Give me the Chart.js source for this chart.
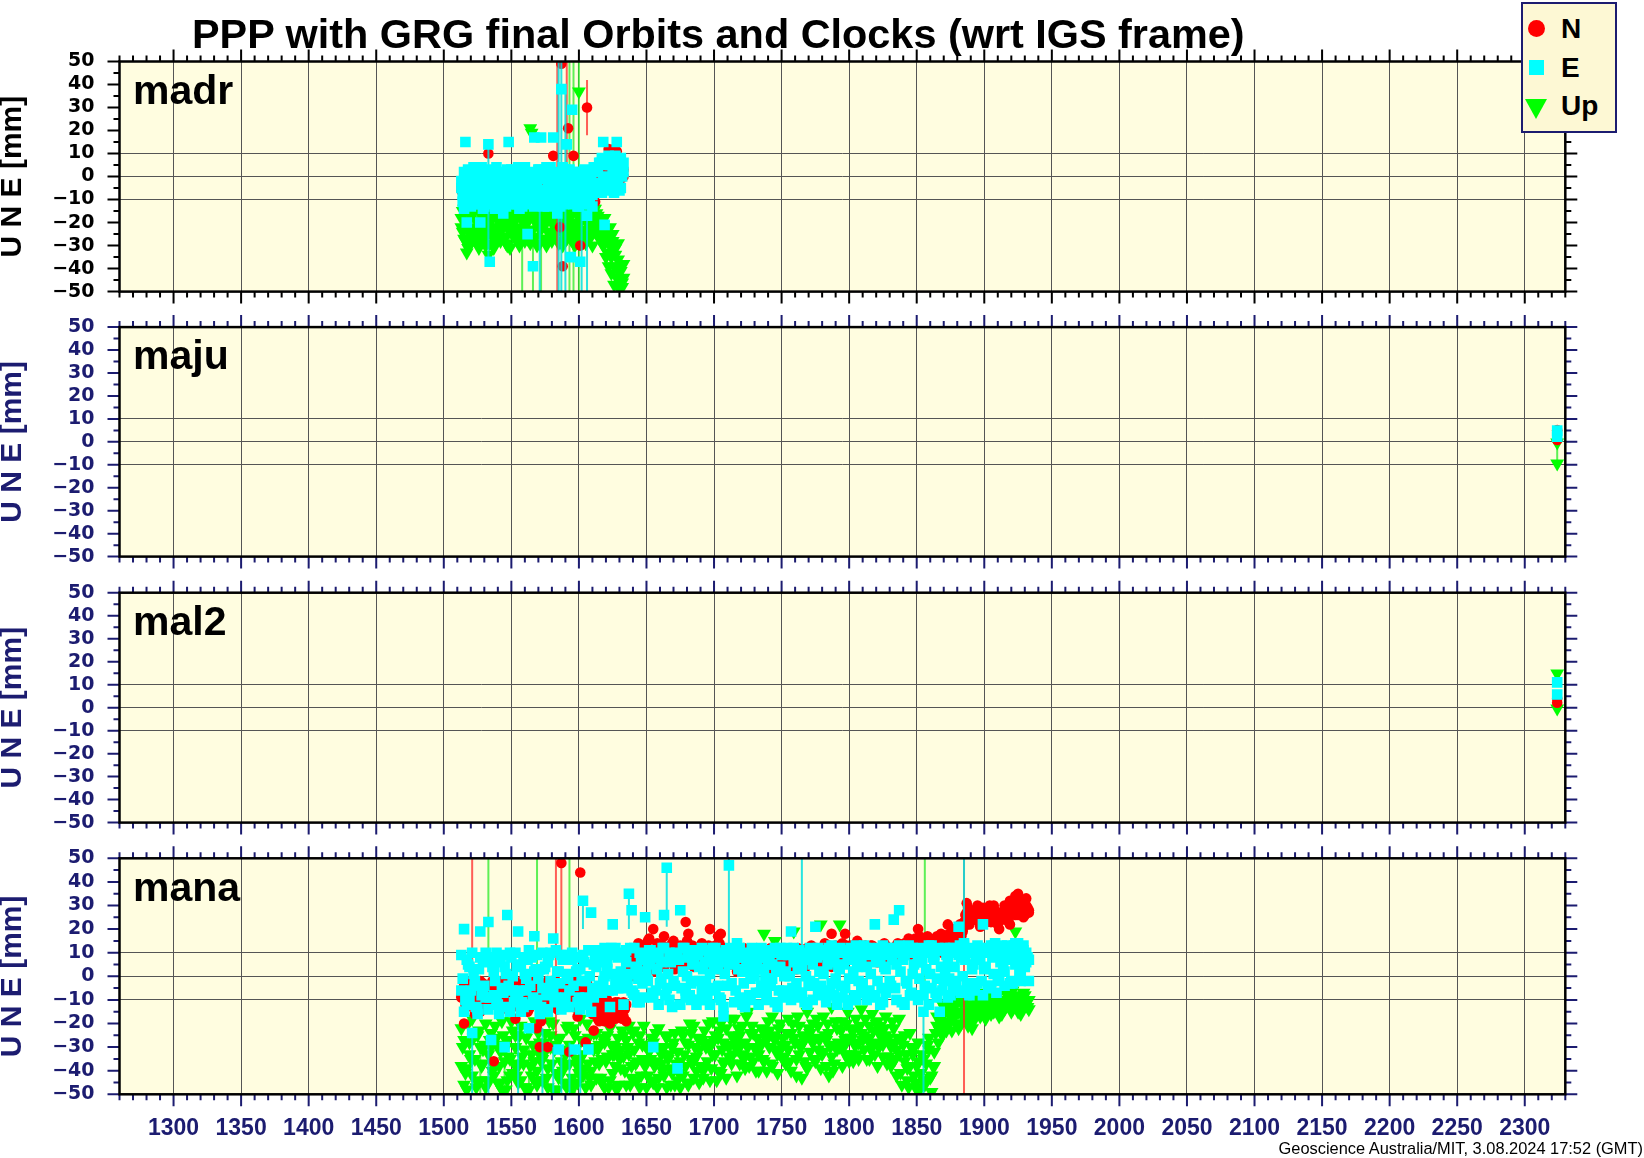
<!DOCTYPE html>
<html><head><meta charset="utf-8">
<script src="https://cdn.jsdelivr.net/npm/chart.js@4.4.1/dist/chart.umd.min.js"></script>
<style>
html,body{margin:0;padding:0;background:#fff;}
body{width:1644px;height:1158px;position:relative;overflow:hidden;font-family:"Liberation Sans",Arial,sans-serif;}
canvas{position:absolute;left:0;z-index:1;}
.t{position:absolute;white-space:nowrap;line-height:1;font-weight:bold;color:#000;z-index:5;}
#title{left:192px;top:13.5px;font-size:41.4px;}
.stn{left:133px;font-size:41px;}
#legend{position:absolute;left:1521px;top:2px;width:96px;height:131px;box-sizing:border-box;border:2px solid #1c1c70;background:#fdf8d4;z-index:10;}
.lg{position:absolute;z-index:11;}
.lt{left:1561px;font-size:28px;z-index:11;}
#footer{position:absolute;right:1px;top:1140px;font-size:16.4px;line-height:1;white-space:nowrap;color:#000;z-index:5;}
</style></head>
<body>
<div id="title" class="t">PPP with GRG final Orbits and Clocks (wrt IGS frame)</div>
<div id="legend"></div>
<div class="lg" style="left:1527.5px;top:19.5px;width:17px;height:17px;border-radius:50%;background:#ff0000;"></div>
<div class="t lt" style="top:15.3px;">N</div>
<div class="lg" style="left:1528.7px;top:59.7px;width:15.3px;height:15.3px;background:#00ffff;"></div>
<div class="t lt" style="top:54.3px;">E</div>
<div class="lg" style="left:1524.7px;top:99px;width:0;height:0;border-left:11.5px solid transparent;border-right:11.5px solid transparent;border-top:20px solid #00ff00;"></div>
<div class="t lt" style="top:92.3px;">Up</div>
<div id="footer">Geoscience Australia/MIT, 3.08.2024 17:52 (GMT)</div>
<script>
// ---------- axes ----------
const xMin = 1260, xMax = 2330;
const xTicks = [1300,1350,1400,1450,1500,1550,1600,1650,1700,1750,1800,1850,1900,1950,2000,2050,2100,2150,2200,2250,2300];
const yTicks = [-50,-40,-30,-20,-10,0,10,20,30,40,50];
const yGrid = [-10,0,10];
const yTitle = 'U N E [mm]';

// ---------- madr ----------
const madrDays = [1513,1514,1515,1516,1517,1518,1519,1520,1521,1522,
1523,1524,1525,1526,1527,1528,1529,1530,1531,1532,
1533,1534,1535,1536,1537,1538,1539,1540,1541,1542,
1543,1544,1545,1546,1547,1548,1549,1550,1551,1552,
1553,1554,1555,1556,1557,1558,1559,1560,1561,1562,
1563,1564,1565,1566,1567,1568,1569,1570,1571,1572,
1573,1574,1575,1576,1577,1578,1579,1580,1581,1582,
1583,1584,1585,1586,1587,1588,1589,1590,1591,1592,
1593,1594,1595,1596,1597,1598,1599,1600,1601,1602,
1603,1604,1605,1606,1607,1608,1609,1610,1611,1612,
1613,1614,1615,1616,1617,1618,1619,1620,1621,1622,
1623,1624,1625,1626,1627,1628,1629,1630,1631,1632,
1633];
const madrN = [-4,-7,-2,-9,-5,-1,-8,-3,-6,-10,
-5,-2,-8,-4,-11,-6,-3,-9,-1,-7,
10,-5,-8,-2,-10,-4,-7,-1,-9,-6,
-3,-8,-5,-11,-2,-7,-4,-9,-6,-1,
-8,-3,-6,-10,-4,-1,-12,-7,-5,-2,
-6,-9,-3,-11,-5,-8,-2,-7,-4,-10,
-3,-7,-5,-1,-9,-6,-4,-8,9,-2,
-5,-9,-3,-22,49,-39,-6,-4,-8,21,
-7,-2,-5,9,-10,-3,-6,-8,-30,-1,
-4,-9,-2,30,-6,-3,-8,-12,-5,-1,
-3,0,-5,2,-2,4,-4,1,3,12,
2,-1,5,12,0,11,3,-2,4,1,
0];
const madrE = [-5,-11,2,15,-20,-8,1,-13,-3,4,
-9,-1,-12,3,-20,-6,-14,0,-4,-10,
14,-37,-7,2,-12,-3,4,-9,-1,-13,
-5,-16,1,-10,-3,15,-12,3,-7,-1,
-11,2,-6,-14,0,-4,-9,4,-2,-25,
-8,1,-12,-39,17,-3,-10,3,-6,17,
-1,-13,2,-7,-4,-11,4,-2,17,-9,
-5,-16,1,-10,38,-3,-12,3,14,-7,
-2,-35,29,-11,0,-6,-13,2,-37,-4,
-9,3,-1,-17,-5,-12,1,-8,4,-3,
-6,2,-3,6,-7,15,-21,0,7,-4,
5,-2,8,-6,3,15,-1,6,-5,4,
2];
const madrU = [-18,-24,-14,-28,-20,-31,-16,-25,-22,-13,
-26,-19,-23,-15,-29,-21,-17,-27,-12,-24,
-34,-20,-25,-16,-22,-28,-13,-19,-26,-18,
-23,-15,-27,-20,-30,-14,-24,-18,-21,-26,
-17,-25,-13,-22,-28,-19,-15,-24,-20,-27,
-14,21,19,-23,-18,-26,-16,-21,-29,-15,
-22,-19,-27,-13,-24,-17,-25,-20,-14,-26,
-18,-23,-15,-28,-21,-16,-24,-19,-27,-13,
-25,-17,-22,-29,-14,-20,-26,37,-18,-23,
-16,-24,-19,-27,-21,-15,-25,-18,-22,-14,
-20,-17,-23,-18,-26,-21,-29,-24,-33,-27,
-22,-35,-28,-39,-31,-44,-36,-49,-41,-46,
-38];
// second solution per day (same days)
const madrN2 = [-6,-3,-9,-2,-7,-11,-4,-8,-1,-5,
-3,-8,-12,-6,-2,-9,-5,-10,-7,-4,
-7,-2,-10,-5,-8,-3,-11,-6,-4,-9,
-5,-10,-2,-7,-12,-4,-8,-3,-9,-6,
-2,-9,-5,-12,-7,-3,-6,-10,-4,-8,
-9,-4,-7,-2,-10,-6,-12,-3,-8,-5,
-6,-10,-3,-8,-4,-11,-7,-2,-9,-5,
-3,-7,-10,-5,-2,-8,-11,-6,-4,-9,
-8,-4,-11,-6,-2,-9,-5,-10,-3,-7,
-5,-2,-8,-10,-4,-7,-3,-9,-6,-11,
-1,3,-3,1,5,-2,2,-4,4,0,
3,0,6,-2,4,1,7,-1,2,5,
3];
const madrE2 = [-2,-8,-14,0,-6,3,-11,-4,-9,-1,
-12,2,-7,-3,-10,4,-5,-13,1,-8,
-4,-11,3,-6,-1,-14,-8,2,-5,-10,
1,-9,-5,-13,3,-7,-2,-11,-4,-8,
-3,-12,4,-8,-6,-13,1,-10,-5,0,
-11,-4,2,-7,-13,0,-5,-9,3,-12,
-6,0,-10,4,-13,-2,-8,-12,1,-5,
-10,2,-7,-13,-3,4,-9,-1,-11,-6,
3,-8,-4,-12,1,-9,-5,-13,2,-10,
-1,-12,-6,2,-10,0,-7,-13,-3,3,
2,-5,6,-3,8,-1,-6,5,-2,9,
-4,7,1,-7,9,-2,4,-6,8,0,
6];
const madrU2 = [-22,-15,-27,-19,-33,-24,-13,-29,-17,-26,
-14,-28,-20,-31,-16,-25,-22,-13,-30,-18,
-21,-29,-14,-24,-31,-17,-26,-22,-15,-28,
-18,-26,-13,-29,-22,-17,-31,-15,-25,-20,
-27,-14,-23,-30,-18,-25,-13,-28,-21,-16,
-24,-29,-17,-13,-27,-20,-30,-14,-23,-19,
-15,-27,-21,-30,-17,-24,-14,-28,-19,-22,
-25,-14,-29,-19,-24,-30,-16,-27,-13,-21,
-18,-27,-14,-23,-30,-16,-22,-12,-28,-19,
-26,-13,-29,-20,-15,-27,-18,-30,-14,-24,
-16,-25,-19,-28,-22,-30,-18,-35,-26,-39,
-30,-42,-25,-47,-34,-40,-29,-45,-38,-48,
-44];
// error bars: [day, low, high]
const madrBarsN = [[1584,-55,55],[1591,-12,55],[1606,18,42]];
const madrBarsE = [[1533,-37,14],[1585,-55,55],[1587,-55,55],[1590,-55,38],[1602,-55,-15],[1606,-55,-17],[1571,-55,-12]];
const madrBarsU = [[1558,-55,-13],[1566,-55,-15],[1572,-55,-12],[1593,-55,55],[1596,-55,55],[1600,-55,55]];

// ---------- maju ----------
const majuDays = [2324,2324];
const majuN = [5.1,0.8];
const majuE = [4.9,2.2];
const majuU = [-0.3,-9.4];
const majuBarsU = [[2324,-9.4,-0.3]];

// ---------- mal2 ----------
const mal2Days = [2324,2324];
const mal2N = [2.1,4];
const mal2E = [11,5.7];
const mal2U = [14.8,-0.4];

// ---------- mana (odd days) ----------
const manaDays = [1513,1515,1517,1519,1521,1523,1525,1527,1529,1531,
1533,1535,1537,1539,1541,1543,1545,1547,1549,1551,
1553,1555,1557,1559,1561,1563,1565,1567,1569,1571,
1573,1575,1577,1579,1581,1583,1585,1587,1589,1591,
1593,1595,1597,1599,1601,1603,1605,1607,1609,1611,
1613,1615,1617,1619,1621,1623,1625,1627,1629,1631,
1633,1635,1637,1639,1641,1643,1645,1647,1649,1651,
1653,1655,1657,1659,1661,1663,1665,1667,1669,1671,
1673,1675,1677,1679,1681,1683,1685,1687,1689,1691,
1693,1695,1697,1699,1701,1703,1705,1707,1709,1711,
1713,1715,1717,1719,1721,1723,1725,1727,1729,1731,
1733,1735,1737,1739,1741,1743,1745,1747,1749,1751,
1753,1755,1757,1759,1761,1763,1765,1767,1769,1771,
1773,1775,1777,1779,1781,1783,1785,1787,1789,1791,
1793,1795,1797,1799,1801,1803,1805,1807,1809,1811,
1813,1815,1817,1819,1821,1823,1825,1827,1829,1831,
1833,1835,1837,1839,1841,1843,1845,1847,1849,1851,
1853,1855,1857,1859,1861,1863,1865,1867,1869,1871,
1873,1875,1877,1879,1881,1883,1885,1887,1889,1891,
1893,1895,1897,1899,1901,1903,1905,1907,1909,1911,
1913,1915,1917,1919,1921,1923,1925,1927,1929,1931,
1933];
const manaN = [-8,-20,-3,-10,-5,-16,-7,-2,-12,-6,
-4,-9,-36,-6,-11,-2,-8,-14,-5,-10,
-18,-5,-9,-3,-12,-7,-1,-10,-22,-30,
-6,-11,-30,-4,-9,-2,-13,48,-7,-5,
-32,-8,-3,-17,44,-10,-28,-6,-12,-23,
-15,-19,-12,-17,-10,-20,-14,-18,-11,-16,
-17,-12,5,10,2,12,8,13,6,15,
9,20,6,12,4,17,11,7,14,10,
8,13,5,23,18,10,7,12,9,14,
6,11,20,8,13,17,18,5,11,9,
7,10,4,12,6,9,11,3,8,10,
6,9,3,11,7,5,10,8,4,9,
8,5,11,7,3,10,6,9,12,7,
9,6,11,4,10,7,13,18,8,12,
10,14,18,9,12,7,11,13,8,10,
9,12,13,8,11,10,7,12,9,11,
12,9,13,10,14,11,15,12,16,20,
14,12,16,13,11,15,17,13,14,16,
22,15,17,16,19,18,21,31,28,25,
27,30,22,26,24,29,23,26,27,20,
24,27,28,22,31,26,35,29,25,30,
28];
const manaE = [-6,20,-12,4,-24,-2,-14,19,6,-9,
23,-27,2,-11,7,-5,-30,26,-15,0,
-8,19,5,-13,-1,-22,8,17,-10,3,
-5,-14,6,-2,16,-9,-31,9,-12,1,
-6,7,-31,-11,3,32,-2,-31,27,-9,
4,-4,9,0,6,-13,22,-3,8,2,
-5,6,35,28,-8,3,-11,9,25,-2,
5,-30,-6,10,-1,26,46,-10,7,-4,
-39,28,2,-9,8,-3,11,-12,4,-6,
6,-8,1,12,-5,3,-10,-17,8,47,
-3,7,14,-9,2,-13,9,-1,5,-7,
10,-4,3,-10,7,-1,12,-13,4,-6,
2,-8,19,6,-3,11,4,-11,8,-2,
5,21,-6,9,1,-9,12,-3,6,-12,
3,10,-5,7,-10,2,13,-2,8,-7,
4,-6,11,22,-2,7,-11,3,12,-4,
24,5,28,-11,9,-3,12,1,-8,6,
10,-15,3,13,-5,7,-1,-15,11,2,
6,-8,12,-2,21,8,14,-4,10,3,
11,-3,7,22,4,-5,13,1,9,-2,
8,2,13,-3,10,5,14,0,11,6,
7];
const manaU = [-22,-46,-39,-28,-18,-35,-25,-44,-31,-20,
-33,-24,-38,-29,-46,-19,-36,-27,-42,-23,
-30,-45,-21,-37,-26,-48,-33,-19,-40,-28,
-35,-24,-47,-30,-20,-41,-27,-36,-45,-22,
-29,-43,-25,-38,-18,-33,-47,-26,-40,-31,
-24,-37,-45,-28,-34,-22,-41,-30,-26,-39,
-34,-27,-21,-38,-31,-44,-25,-35,-29,-42,
-44,-28,-36,-22,-33,-42,-26,-39,-30,-24,
-32,-47,-25,-38,-29,-35,-21,-40,-45,-27,
-23,-36,-30,-19,-33,-26,-41,-28,-22,-34,
-25,-18,-31,-37,-21,-28,-15,-34,-24,-40,
-40,-22,18,-27,-30,-17,15,-33,-20,-26,
-29,-18,-24,19,-35,-21,-43,-27,-15,-32,
-20,-26,-31,22,-17,-38,-24,-13,-29,-22,
22,-19,-27,-15,-33,-23,-18,-28,-14,-25,
-35,-21,-16,-28,-19,-24,-34,-17,-26,-30,
-22,-31,-18,-27,-36,-39,-24,-33,-45,-28,
-41,-44,-37,-26,-49,-32,-21,-18,-25,-14,
-12,-19,-9,-16,-22,-11,-15,-8,-18,-13,
-16,-10,-14,-7,-18,-12,-9,-15,-11,-17,
-10,-14,-8,-13,-6,19,-15,-9,-12,-11,
-10];
// second solution on odd days
const manaN3 = [-9,-4,-13,-7,-2,-11,-6,-15,-3,-10,
-5,-12,-8,-3,-14,-6,-10,-2,-9,-13,
-7,-3,-12,-9,-5,-14,-2,-8,-11,-4,
-10,-6,-2,-13,-8,-4,-11,-7,-3,-9,
-4,-11,-7,-14,-3,-9,-5,-12,-8,-13,
-13,-17,-10,-19,-12,-15,-18,-11,-16,-14,
-11,-19,2,7,0,9,4,11,3,8,
5,10,2,8,12,4,9,6,11,3,
6,9,3,11,7,12,4,8,10,5,
4,8,11,6,9,3,10,7,5,12,
5,9,2,7,10,4,8,6,11,3,
4,8,6,10,3,9,5,7,11,6,
5,9,4,7,11,6,8,3,10,7,
6,10,5,8,12,7,9,4,11,8,
7,11,6,9,13,8,10,5,12,9,
8,12,7,10,6,11,9,13,8,10,
9,13,8,11,10,14,9,12,11,15,
12,10,14,11,13,9,15,12,10,13,
16,14,18,15,20,17,23,27,22,26,
24,27,21,29,25,28,23,30,26,24,
27,30,25,32,28,34,26,31,29,33,
27];
const manaE3 = [9,-15,7,-9,10,-4,-16,8,-7,10,
-14,8,-8,10,-16,9,4,-13,10,-6,
10,-10,-15,8,-6,11,-12,2,9,-16,
10,4,-15,10,-6,11,2,-14,7,9,
-13,10,8,3,-14,9,-9,11,-15,5,
11,7,-7,12,3,9,-6,12,-5,10,
-12,11,1,-6,12,-11,10,-3,9,6,
11,-9,9,-12,6,12,-5,10,-13,8,
9,-12,12,-6,10,-10,7,11,-2,12,
-10,11,-12,8,12,-4,10,-13,11,5,
10,-11,8,12,-12,10,2,-10,11,9,
-12,12,8,-8,11,5,-11,10,12,-9,
11,9,-10,12,-9,11,-7,10,-12,12,
-10,10,12,-4,11,-11,9,13,-8,10,
12,-9,10,-12,12,9,-10,11,-5,13,
-10,12,11,-9,9,-12,13,-7,10,12,
10,-10,13,11,-12,10,-8,12,11,-10,
12,-8,10,-12,13,9,-9,11,-6,12,
-9,12,-5,10,9,-7,13,10,-8,12,
-6,13,10,-8,12,10,-4,13,-7,11,
13,-4,9,11,-3,14,8,-2,13,10,
-2];
const manaU3 = [-38,-27,-48,-33,-42,-24,-45,-30,-37,-47,
-45,-30,-42,-26,-38,-48,-31,-44,-35,-41,
-25,-38,-44,-31,-47,-23,-42,-36,-46,-33,
-44,-32,-39,-25,-48,-29,-43,-31,-38,-47,
-37,-48,-31,-45,-35,-42,-28,-37,-46,-24,
-43,-29,-35,-47,-25,-44,-33,-38,-46,-31,
-25,-46,-33,-43,-23,-36,-47,-29,-38,-35,
-35,-45,-24,-43,-37,-30,-47,-33,-41,-46,
-44,-36,-42,-28,-46,-24,-43,-34,-31,-39,
-39,-28,-44,-33,-25,-40,-20,-37,-43,-30,
-37,-29,-42,-25,-33,-39,-30,-24,-36,-31,
-33,-29,-36,-40,-23,-38,-27,-41,-31,-35,
-37,-31,-40,-26,-42,-33,-29,-36,-39,-24,
-28,-36,-21,-39,-32,-27,-42,-34,-37,-31,
-30,-38,-33,-26,-22,-36,-29,-35,-24,-31,
-26,-35,-29,-33,-38,-21,-29,-25,-34,-38,
-29,-42,-33,-46,-25,-44,-38,-31,-47,-36,
-47,-35,-44,-31,-42,-38,-17,-23,-12,-20,
-21,-14,-18,-11,-15,-20,-9,-16,-12,-22,
-9,-13,-17,-11,-14,-8,-16,-10,-13,-7,
-16,-11,-5,-10,-14,-8,-12,-16,-7,-11,
-14];
// ---------- mana (even days) ----------
const manaDays2 = [1514,1516,1518,1520,1522,1524,1526,1528,1530,1532,
1534,1536,1538,1540,1542,1544,1546,1548,1550,1552,
1554,1556,1558,1560,1562,1564,1566,1568,1570,1572,
1574,1576,1578,1580,1582,1584,1586,1588,1590,1592,
1594,1596,1598,1600,1602,1604,1606,1608,1610,1612,
1614,1616,1618,1620,1622,1624,1626,1628,1630,1632,
1634,1636,1638,1640,1642,1644,1646,1648,1650,1652,
1654,1656,1658,1660,1662,1664,1666,1668,1670,1672,
1674,1676,1678,1680,1682,1684,1686,1688,1690,1692,
1694,1696,1698,1700,1702,1704,1706,1708,1710,1712,
1714,1716,1718,1720,1722,1724,1726,1728,1730,1732,
1734,1736,1738,1740,1742,1744,1746,1748,1750,1752,
1754,1756,1758,1760,1762,1764,1766,1768,1770,1772,
1774,1776,1778,1780,1782,1784,1786,1788,1790,1792,
1794,1796,1798,1800,1802,1804,1806,1808,1810,1812,
1814,1816,1818,1820,1822,1824,1826,1828,1830,1832,
1834,1836,1838,1840,1842,1844,1846,1848,1850,1852,
1854,1856,1858,1860,1862,1864,1866,1868,1870,1872,
1874,1876,1878,1880,1882,1884,1886,1888,1890,1892,
1894,1896,1898,1900,1902,1904,1906,1908,1910,1912,
1914,1916,1918,1920,1922,1924,1926,1928,1930,1932];
const manaN2 = [-6,-12,-3,-9,-1,-14,-5,-8,-11,-4,
-7,-2,-10,-5,-13,-3,-9,-6,-1,-12,
-4,-11,-2,-8,-15,-6,-3,-10,-7,-19,
-9,-4,-12,-2,-7,-14,-5,-10,-3,-8,
-6,-13,-2,-9,-5,-11,-3,-8,-16,-10,
-18,-13,-16,-11,-19,-14,-17,-12,-15,-18,
-14,3,8,11,6,14,9,12,7,16,
11,7,14,9,13,6,12,10,15,8,
10,6,12,15,9,13,7,11,8,12,
9,13,7,12,10,14,8,12,10,7,
8,11,6,9,12,7,10,5,9,11,
7,10,5,9,12,8,6,11,7,10,
9,6,10,8,12,5,11,7,9,13,
8,12,6,10,14,9,11,7,13,10,
11,9,13,8,12,10,15,9,11,13,
10,13,9,12,8,11,14,10,12,9,
11,14,10,13,12,16,11,14,13,17,
15,13,17,12,14,16,13,18,15,14,
18,16,20,17,22,19,26,29,24,27,
25,28,24,27,23,30,26,28,22,25,
26,29,23,30,27,33,28,31,26,29];
const manaE2 = [-1,-10,5,-6,1,-13,3,-8,-4,7,
-9,4,-2,-12,6,-7,1,-4,8,-11,
4,-6,-11,1,7,-4,-9,3,-1,-13,
3,-8,9,-5,-11,2,-3,7,-9,-1,
8,-4,2,-9,-2,6,-12,0,-5,9,
-5,10,-2,6,-6,12,1,-4,9,-1,
9,-3,12,-7,4,-1,7,-9,2,11,
-7,8,3,-3,12,-8,1,6,-2,10,
7,-5,12,0,-8,5,-2,9,-10,3,
-2,10,-6,4,9,-9,6,1,-4,12,
10,-6,3,8,-3,6,-8,12,0,4,
-7,8,-1,5,-4,11,2,-6,9,0,
12,0,-5,9,3,-7,7,0,-4,10,
-3,8,2,-8,11,5,-6,9,-1,4,
-4,5,11,-1,8,-8,4,10,-3,12,
9,1,-8,6,12,-5,4,9,-2,7,
-5,11,2,7,-2,13,-7,5,10,-1,
6,-4,11,1,8,-7,12,4,-2,9,
-1,10,4,-6,13,0,7,-3,11,5,
7,12,-2,3,10,-4,8,14,0,6,
3,11,7,-2,13,9,1,12,4,8];
const manaU2 = [-30,-41,-20,-35,-26,-47,-23,-38,-29,-44,
-27,-40,-21,-45,-32,-25,-48,-34,-19,-37,
-42,-25,-34,-47,-22,-38,-29,-44,-24,-36,
-28,-43,-19,-37,-31,-48,-26,-40,-33,-21,
-46,-22,-35,-41,-27,-39,-20,-43,-30,-36,
-31,-43,-26,-36,-47,-29,-33,-48,-35,-23,
-40,-30,-46,-24,-37,-28,-42,-21,-47,-32,
-26,-38,-47,-30,-40,-25,-35,-46,-28,-37,
-41,-23,-33,-45,-20,-37,-30,-26,-38,-43,
-30,-20,-39,-27,-44,-23,-31,-36,-29,-18,
-33,-27,-22,-29,-35,-17,-38,-21,-30,-26,
-28,-35,-24,-19,-37,-25,-31,-22,-29,-34,
-24,-36,-20,-28,-17,-30,-25,-38,-22,-27,
-35,-18,-27,-33,-25,-20,-30,-40,-19,-28,
-23,-30,-20,-36,-26,-29,-33,-21,-27,-18,
-27,-31,-23,-20,-30,-26,-22,-37,-28,-19,
-35,-26,-41,-29,-33,-47,-30,-42,-38,-48,
-33,-46,-29,-43,-38,-24,-28,-20,-16,-23,
-16,-23,-13,-20,-10,-17,-12,-21,-14,-19,
-12,-15,-9,-13,-16,-6,-11,-14,-8,-12,
-13,-7,-11,-15,-9,-12,-10,-14,-8,-13];
const manaBarsN = [[1521,-18,55],[1583,-25,55],[1587,10,48],[1885,-55,55]];
const manaBarsE = [[1665,21,46],[1711,14,55],[1765,5,55],[1885,14,55],[1603,20,32],[1637,20,35],[1855,-55,-15],
  [1521,-55,-22],[1533,-55,-25],[1555,-55,-20],[1573,-55,-22],[1581,-55,-30],[1587,-55,-30],[1593,-55,-28],[1601,-55,-30]];
const manaBarsU = [[1533,5,55],[1569,5,55],[1593,10,55],[1856,-10,55],[1527,-55,-30],[1545,-55,-35],[1563,-55,-30],[1577,-55,-35],[1597,-55,-35],[1605,-55,-38]];

// ---------- styling ----------
const COL_N = '#ff0000', COL_E = '#00ffff', COL_U = '#00ff00';
const BAR_N = 'rgba(255,40,40,0.75)', BAR_E = 'rgba(0,225,225,0.85)', BAR_U = 'rgba(40,235,40,0.75)';
const NAVY = '#1c1c70';
const BG = '#fffde0';

const panels = [
  {name:'madr', sets:[{days:madrDays, n:madrN, e:madrE, u:madrU},{days:madrDays, n:madrN2, e:madrE2, u:madrU2}],
   bn:madrBarsN, be:madrBarsE, bu:madrBarsU, ink:'#000000'},
  {name:'maju', sets:[{days:majuDays, n:majuN, e:majuE, u:majuU}], bn:[], be:[], bu:majuBarsU, ink:NAVY},
  {name:'mal2', sets:[{days:mal2Days, n:mal2N, e:mal2E, u:mal2U}], bn:[], be:[], bu:[], ink:NAVY},
  {name:'mana', sets:[{days:manaDays, n:manaN, e:manaE, u:manaU},{days:manaDays2, n:manaN2, e:manaE2, u:manaU2},
                      {days:manaDays, n:manaN3, e:manaE3, u:manaU3}],
   bn:manaBarsN, be:manaBarsE, bu:manaBarsU, ink:NAVY}
];

const plotLeft = 119.5, plotRight = 1565.3, plotH = 236;
const tops = [61.5, 327.1, 592.7, 858.3];

const panelPlugin = {
  id: 'panel',
  beforeDraw(chart) {
    const {ctx, chartArea: a} = chart;
    ctx.save();
    ctx.fillStyle = BG;
    ctx.fillRect(a.left, a.top, a.right - a.left, a.bottom - a.top);
    ctx.restore();
  },
  beforeDatasetDraw(chart, args) {
    const ds = chart.data.datasets[args.index];
    if (!ds.bars || !ds.bars.length) return;
    const {ctx, chartArea: a, scales} = chart;
    ctx.save();
    ctx.beginPath();
    ctx.rect(a.left, a.top, a.right - a.left, a.bottom - a.top);
    ctx.clip();
    ctx.strokeStyle = ds.barColor;
    ctx.lineWidth = 2;
    ds.bars.forEach(([d, lo, hi]) => {
      const px = scales.x.getPixelForValue(d);
      ctx.beginPath();
      ctx.moveTo(px, scales.y.getPixelForValue(lo));
      ctx.lineTo(px, scales.y.getPixelForValue(hi));
      ctx.stroke();
    });
    ctx.restore();
  },
  afterDraw(chart, args, opts) {
    const {ctx, chartArea: a, scales} = chart;
    ctx.save();
    ctx.strokeStyle = opts.ink;
    ctx.lineWidth = 2;
    ctx.beginPath();
    for (let d = xMin; d <= xMax; d += 10) {
      const px = scales.x.getPixelForValue(d);
      const L = d % 50 === 0 ? 12 : 6;
      ctx.moveTo(px, a.top); ctx.lineTo(px, a.top - L);
      ctx.moveTo(px, a.bottom); ctx.lineTo(px, a.bottom + L);
    }
    for (let v = -50; v <= 50; v += 5) {
      const py = scales.y.getPixelForValue(v);
      const L = v % 10 === 0 ? 12 : 6;
      ctx.moveTo(a.left, py); ctx.lineTo(a.left - L, py);
      ctx.moveTo(a.right, py); ctx.lineTo(a.right + L, py);
    }
    ctx.stroke();
    ctx.strokeStyle = '#000';
    ctx.lineWidth = 2.5;
    ctx.strokeRect(a.left, a.top, a.right - a.left, a.bottom - a.top);
    ctx.restore();
  }
};

panels.forEach((p, i) => {
  const isLast = i === panels.length - 1;
  const cTop = Math.floor(tops[i]) - 40;
  const padTop = tops[i] - cTop;
  const cH = isLast ? 1158 - cTop : Math.round(padTop + plotH + 30);
  const xAxisH = cH - padTop - plotH;
  const canvas = document.createElement('canvas');
  canvas.width = 1644; canvas.height = cH;
  canvas.style.top = cTop + 'px';
  canvas.style.width = '1644px'; canvas.style.height = cH + 'px';
  document.body.appendChild(canvas);

  const lbl = document.createElement('div');
  lbl.className = 't stn';
  lbl.style.top = (tops[i] + 8.3) + 'px';
  lbl.textContent = p.name;
  document.body.appendChild(lbl);

  const pts = key => p.sets.flatMap(s => s.days.map((d, k) => ({x: d, y: s[key][k]})));
  new Chart(canvas, {
    type: 'scatter',
    data: {
      datasets: [
        {label: 'Up', data: pts('u'), pointStyle: 'triangle', rotation: 180, pointRadius: 8,
         pointBackgroundColor: COL_U, pointBorderWidth: 0, order: 3, clip: 0, bars: p.bu, barColor: BAR_U},
        {label: 'N', data: pts('n'), pointStyle: 'circle', pointRadius: 5.3,
         pointBackgroundColor: COL_N, pointBorderWidth: 0, order: 2, clip: 0, bars: p.bn, barColor: BAR_N},
        {label: 'E', data: pts('e'), pointStyle: 'rect', pointRadius: 7.5,
         pointBackgroundColor: COL_E, pointBorderWidth: 0, order: 1, clip: 0, bars: p.be, barColor: BAR_E}
      ]
    },
    options: {
      responsive: false, animation: false, devicePixelRatio: 1, events: [],
      layout: {padding: {top: padTop, left: 0, right: 1644 - plotRight, bottom: 0}},
      plugins: {legend: {display: false}, tooltip: {enabled: false}, panel: {ink: p.ink}},
      scales: {
        x: {
          type: 'linear', position: 'bottom', min: xMin, max: xMax,
          afterBuildTicks: s => { s.ticks = xTicks.map(v => ({value: v})); },
          afterFit: s => { s.height = xAxisH; },
          grid: {drawTicks: false, color: '#555555', lineWidth: 1},
          border: {display: false},
          ticks: {display: isLast, padding: 20.3, color: p.ink, autoSkip: false, maxRotation: 0, minRotation: 0,
                  font: {family: 'Liberation Sans', weight: 'bold', size: 23},
                  callback: v => String(v)}
        },
        y: {
          type: 'linear', position: 'left', min: -50, max: 50,
          afterBuildTicks: s => { s.ticks = yTicks.map(v => ({value: v})); },
          afterFit: s => { s.width = plotLeft; },
          grid: {drawTicks: false, lineWidth: 1,
                 color: c => (c.tick && yGrid.includes(c.tick.value)) ? '#555555' : 'rgba(0,0,0,0)'},
          border: {display: false},
          ticks: {padding: 25, color: p.ink, autoSkip: false,
                  font: {family: 'DejaVu Sans', weight: 'bold', size: 19},
                  callback: v => v < 0 ? '\u2212' + (-v) : String(v)},
          title: {display: true, text: yTitle, color: p.ink,
                  font: {family: 'Liberation Sans', weight: 'bold', size: 30, lineHeight: 0.8},
                  padding: {top: 1.1, bottom: 0}}
        }
      }
    },
    plugins: [panelPlugin]
  });
});
</script>
</body></html>
